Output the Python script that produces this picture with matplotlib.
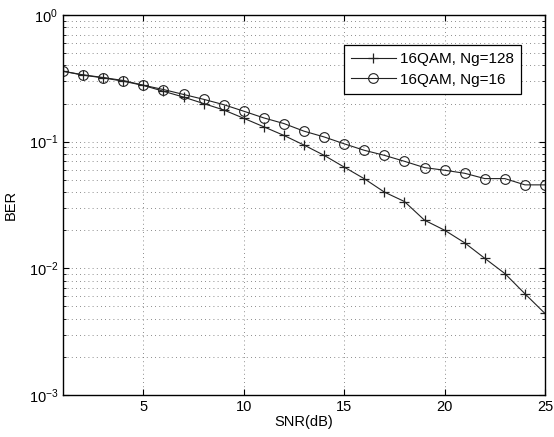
import matplotlib
matplotlib.use("Agg")
import matplotlib.pyplot as plt
from matplotlib.ticker import LogLocator, NullFormatter, FixedLocator

plt.rcParams['font.family'] = ['Liberation Sans', 'DejaVu Sans']
plt.rcParams['mathtext.fontset'] = 'custom'
plt.rcParams['mathtext.rm'] = 'Liberation Sans'
plt.rcParams['mathtext.it'] = 'Liberation Sans'
plt.rcParams['mathtext.bf'] = 'Liberation Sans'

snr = list(range(1, 26))
ber_ng128 = [0.36, 0.335, 0.319, 0.30, 0.278, 0.25, 0.225, 0.20, 0.178, 0.153,
             0.131, 0.112, 0.094, 0.078, 0.063, 0.051, 0.040, 0.0337, 0.024, 0.020,
             0.0159, 0.0120, 0.0091, 0.0063, 0.0044]
ber_ng16 = [0.36, 0.337, 0.321, 0.304, 0.279, 0.258, 0.236, 0.216, 0.196, 0.174,
            0.154, 0.139, 0.121, 0.109, 0.0962, 0.0855, 0.078, 0.070, 0.0624, 0.0595,
            0.0563, 0.0511, 0.0511, 0.0456, 0.0456]
labels = ['16QAM, Ng=128', '16QAM, Ng=16']
xticks = [5, 10, 15, 20, 25]

fig = plt.figure(figsize=(5.54, 4.37), dpi=100)
ax = fig.add_axes([63/554, 1 - 395/437, (545-63)/554, (395-15)/437])

ax.semilogy(snr, ber_ng128, '-', color='#222222', lw=0.8, marker='+', ms=7,
            mew=0.9, label=labels[0])
ax.semilogy(snr, ber_ng16, '-', color='#222222', lw=0.8, marker='o', ms=7,
            mfc='none', mew=0.8, label=labels[1])

ax.set_xlim(1, 25)
ax.set_ylim(1e-3, 1)
ax.xaxis.set_major_locator(FixedLocator(xticks))
ax.yaxis.set_major_locator(LogLocator(base=10, numticks=10))
ax.yaxis.set_minor_locator(LogLocator(base=10, subs=range(2, 10), numticks=20))
ax.yaxis.set_minor_formatter(NullFormatter())

ax.grid(True, which='major', axis='both', linestyle=(0, (1, 4)), color='#666666', lw=0.6)
ax.grid(True, which='minor', axis='y', linestyle=(0, (1, 4)), color='#666666', lw=0.6)

ax.tick_params(which='both', direction='in', top=True, right=True, labelsize=10.5)
ax.tick_params(which='major', length=4)
ax.tick_params(which='minor', length=2)
for s in ax.spines.values():
    s.set_linewidth(1.0)

ax.set_xlabel('SNR(dB)', fontsize=10.5, labelpad=1)
ax.set_ylabel('BER', fontsize=10.5, labelpad=8)

leg = ax.legend(loc='upper right', bbox_to_anchor=(521/554, 1 - 45/437),
                bbox_transform=fig.transFigure, fontsize=11, frameon=True,
                fancybox=False, edgecolor='black', framealpha=1,
                handlelength=2.9, borderpad=0.45, labelspacing=0.45,
                handletextpad=0.3, borderaxespad=0)
leg.get_frame().set_linewidth(0.9)

fig.savefig('out.png', dpi=100)
